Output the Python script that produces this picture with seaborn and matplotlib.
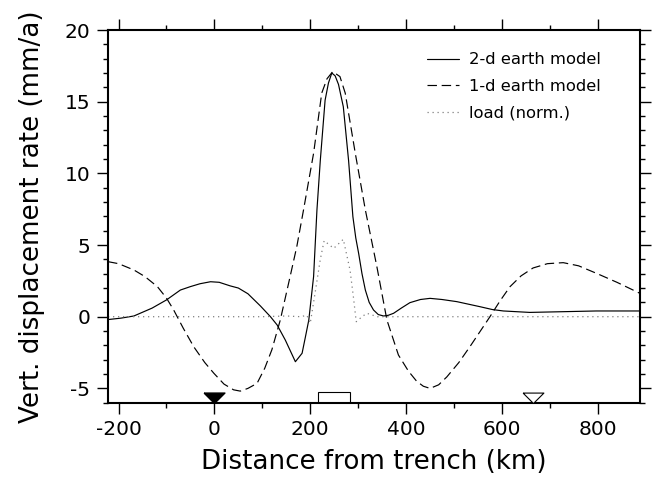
import numpy as np
import pandas as pd
import matplotlib
matplotlib.use("Agg")
import matplotlib.pyplot as plt
from matplotlib.ticker import MultipleLocator
import seaborn as sns

# values (km from trench, mm/a)
km_2d = [-222, -195, -168, -130, -100, -71, -50, -30, -8, 10, 33, 50, 70, 96, 117, 131, 148,
         169, 183, 190, 197, 207, 214, 221, 231, 238, 245, 252, 259, 269, 280, 289, 295,
         301, 308, 315, 323, 332, 342, 353, 363, 374, 390, 408, 430, 450, 475, 506, 554,
         580, 603, 658, 728, 797, 888]
rate_2d = [-0.2, -0.1, 0.05, 0.6, 1.17, 1.86, 2.1, 2.3, 2.44, 2.4, 2.15, 2.0, 1.6, 0.75, 0.0, -0.58, -1.63,
           -3.14, -2.55, -1.4, -0.23, 2.8, 7.45, 10.9, 15.1, 16.3, 17.0, 16.8, 16.2, 14.65, 10.9, 6.98, 5.5,
           4.42, 3.0, 1.86, 1.0, 0.47, 0.15, 0.05, 0.1, 0.24, 0.6, 0.98, 1.2, 1.28, 1.2, 1.05, 0.7,
           0.5, 0.4, 0.3, 0.35, 0.4, 0.4]

km_1d = [-222, -200, -168, -145, -119, -100, -85, -65, -43, -20, -1, 20, 40, 54, 70, 89, 105,
         120, 137.5, 158, 172, 186, 207, 224, 235, 247, 262, 273, 294, 315, 339, 360, 384,
         405, 422, 436, 450, 468, 485, 510, 533, 555, 575, 596, 617, 640, 665, 695, 728,
         760, 797, 840, 888]
rate_1d = [3.84, 3.7, 3.26, 2.8, 2.1, 1.3, 0.47, -0.8, -2.1, -3.2, -3.95, -4.7, -5.1, -5.19, -5.0, -4.65, -3.6,
           -2.3, -0.23, 2.8, 4.9, 7.45, 11.4, 15.6, 16.6, 17.1, 16.75, 15.6, 11.4, 7.45, 3.5, -0.23, -2.67,
           -3.8, -4.5, -4.85, -5.0, -4.75, -4.2, -3.2, -2.1, -1.0, 0.0, 1.1, 2.1, 2.85, 3.4, 3.7, 3.77,
           3.55, 3.03, 2.4, 1.63]

km_load = [-222, 100, 150, 180, 193, 200, 210, 221, 229, 249, 269, 283, 290, 296, 308, 318, 340, 888]
load_norm = [0, 0, 0.05, 0, 0.1, -0.46, 1.63, 4.0, 5.3, 4.77, 5.4, 3.26, 1.4, -0.35, 0, 0.24, 0, 0]

labels = ["2-d earth model", "1-d earth model", "load (norm.)"]

trench_km = [0]
station_km = [665]
load_center = 250
load_width = 66
load_box_h = 0.77

sns.set_style("ticks")
plt.rcParams["font.family"] = ["DejaVu Sans"]
plt.rcParams["axes.unicode_minus"] = False
plt.rcParams["text.color"] = "black"
plt.rcParams["axes.labelcolor"] = "black"
plt.rcParams["xtick.color"] = "black"
plt.rcParams["ytick.color"] = "black"

fig = plt.figure(figsize=(6.53, 4.91), dpi=100)
ax = fig.add_axes([0.1654, 0.1798, 0.8146, 0.7591])

sns.lineplot(x=km_2d, y=rate_2d, ax=ax, color="black", lw=0.85, label=labels[0])
sns.lineplot(x=km_1d, y=rate_1d, ax=ax, color="black", lw=0.85, label=labels[1])
ax.lines[-1].set_dashes((8, 4))
sns.lineplot(x=km_load, y=load_norm, ax=ax, color="#808080", lw=0.9, label=labels[2])
ax.lines[-1].set_dashes((1, 3))

ax.set_xlim(-222, 888)
ax.set_ylim(-6, 20)

# markers sitting on the bottom axis
tri = [(-1, 1), (1, 1), (0, 0), (-1, 1)]
ax.plot(trench_km, [-6] * len(trench_km), linestyle="none", marker=tri, markersize=15,
        markerfacecolor="black", markeredgecolor="black", clip_on=False, zorder=5)
ax.plot(station_km, [-6] * len(station_km), linestyle="none", marker=tri, markersize=15,
        markerfacecolor="white", markeredgecolor="black", markeredgewidth=0.8, clip_on=False, zorder=5)
ax.bar(load_center, load_box_h, width=load_width, bottom=-6, fill=False,
       edgecolor="black", lw=0.8, zorder=4)

ax.xaxis.set_major_locator(MultipleLocator(200))
ax.xaxis.set_minor_locator(MultipleLocator(100))
ax.yaxis.set_major_locator(MultipleLocator(5))
ax.yaxis.set_minor_locator(MultipleLocator(1))
ax.tick_params(which="both", direction="out", top=True, right=True,
               labeltop=False, labelright=False, width=1, color="black")
ax.tick_params(which="major", length=7.7, labelsize=14.5, pad=5)
ax.tick_params(which="minor", length=3.6)
for s in ax.spines.values():
    s.set_linewidth(1.5)
    s.set_color("black")

ax.set_xlabel("Distance from trench (km)", fontsize=18.8, labelpad=7)
ax.set_ylabel("Vert. displacement rate (mm/a)", fontsize=18.8, labelpad=14)

ax.legend(loc="upper left", bbox_to_anchor=(0.5996, 0.94), frameon=False, fontsize=11.8,
          handlelength=1.95, handletextpad=0.6, labelspacing=0.7, borderpad=0, borderaxespad=0)

fig.savefig("out.png", dpi=100)
